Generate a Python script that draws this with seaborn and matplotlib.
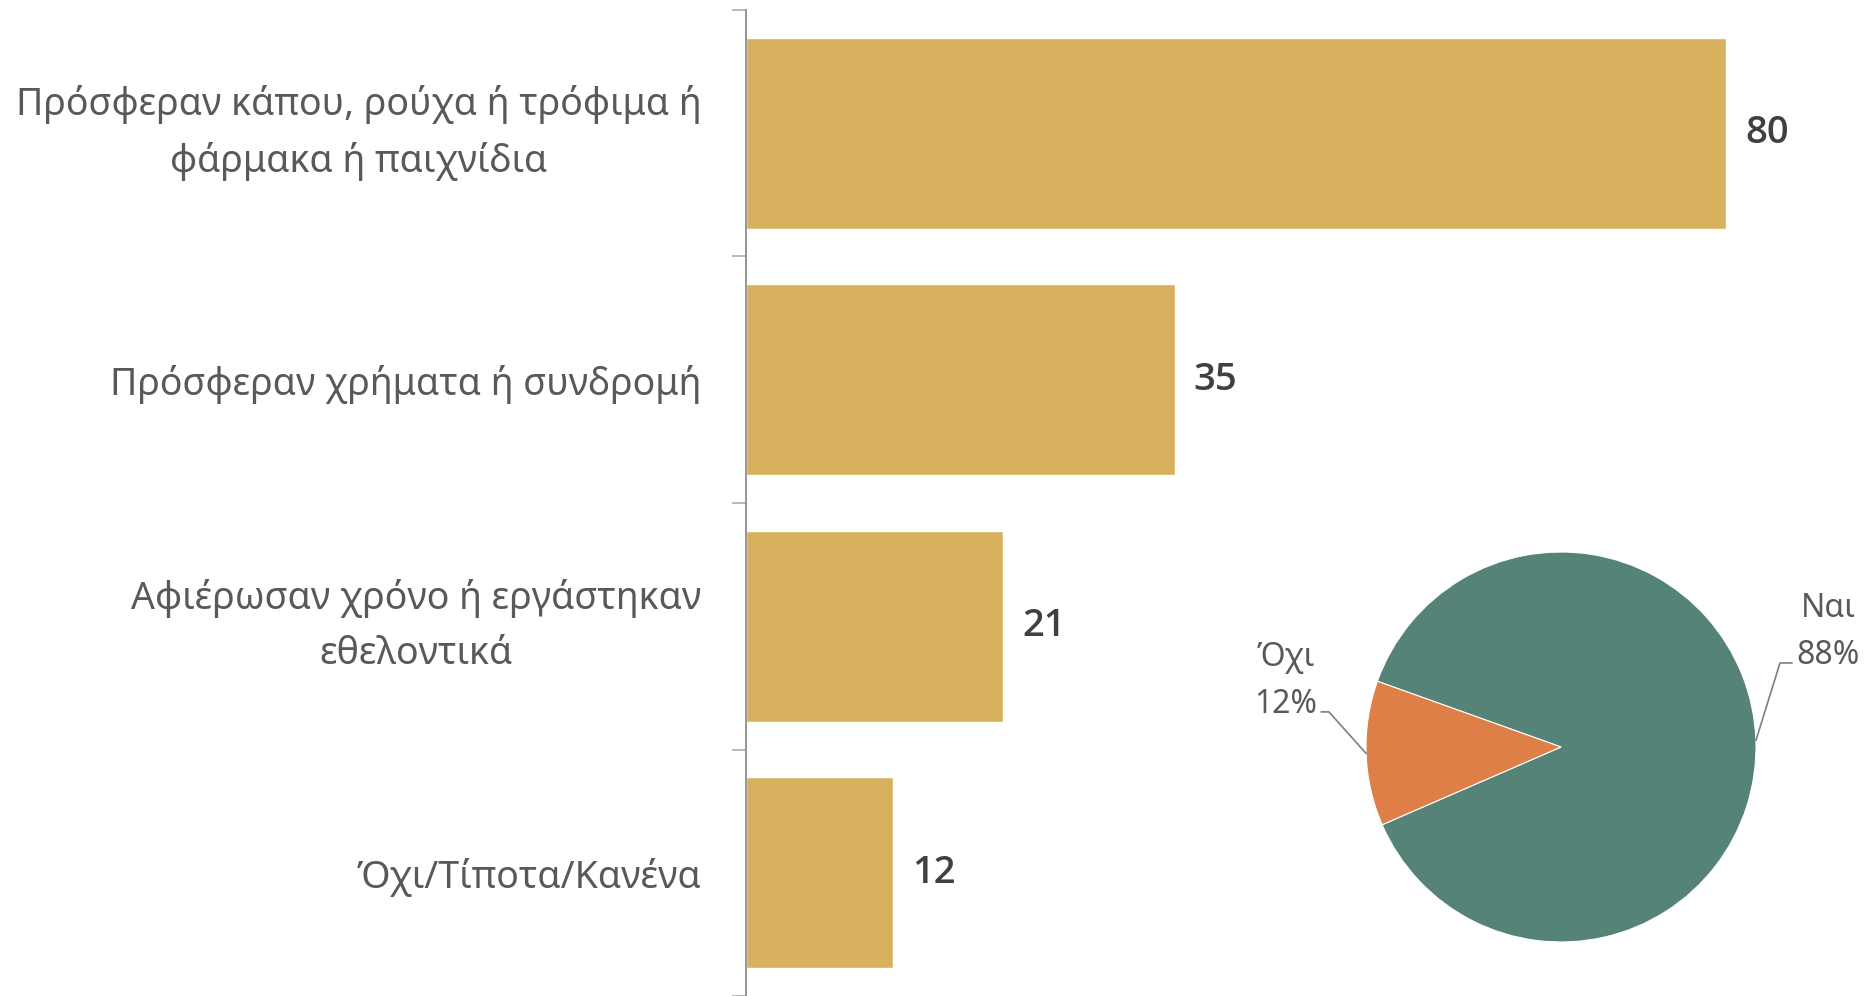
import numpy as np
import matplotlib
matplotlib.use("Agg")
import matplotlib.pyplot as plt
import seaborn as sns

categories = ["Πρόσφεραν κάπου, ρούχα ή τρόφιμα ή\nφάρμακα ή παιχνίδια",
              "Πρόσφεραν χρήματα ή συνδρομή",
              "Αφιέρωσαν χρόνο ή εργάστηκαν\nεθελοντικά",
              "Όχι/Τίποτα/Κανένα"]
values = [80, 35, 21, 12]

pie_labels = ["Ναι", "Όχι"]
pie_values = [88, 12]

bar_color = "#D7B15D"
pie_colors = ["#568377", "#DD7F47"]
text_gray = "#595959"

sns.set_theme(style="white")
plt.rcParams["font.family"] = ["Noto Sans", "DejaVu Sans"]

fig = plt.figure(figsize=(18.64, 9.96), dpi=100)

# bar chart
ax = fig.add_axes([746 / 1864, 0, 1 - 746 / 1864, 1 - 10 / 996])
sns.barplot(x=values, y=categories, color=bar_color, width=0.776, ax=ax,
            saturation=1, orient="h")
ax.set_xlim(0, (1864 - 746) / 12.25)
ax.set_ylim(-0.5 + 986 / 247.5, -0.5)
ax.set_xlabel("")
ax.set_ylabel("")
ax.set_xticks([])
for s in ["top", "right", "bottom"]:
    ax.spines[s].set_visible(False)
ax.spines["left"].set_color("#8c8c8c")
ax.spines["left"].set_linewidth(1.3)
ax.set_yticks(np.arange(len(categories) + 1) - 0.5, minor=True)
ax.tick_params(axis="y", which="minor", length=10, width=1.1, color="#a6a6a6", left=True)
ax.tick_params(axis="y", which="major", length=0, pad=32, labelsize=27, labelcolor=text_gray)
for lab in ax.get_yticklabels():
    lab.set_multialignment("center")
    lab.set_linespacing(1.6)
    if "\n" in lab.get_text():
        lab.set_verticalalignment("center")

for i, v in enumerate(values):
    ax.text(v + 1.55, i, str(v), va="center", ha="left", fontsize=27.5,
            fontweight="semibold", family=["Open Sans", "DejaVu Sans"], color="#404040")

# pie chart
r = 195
pax = fig.add_axes([(1561 - r) / 1864, (996 - 747 - r) / 996, 2 * r / 1864, 2 * r / 996])
wedges, _ = pax.pie(pie_values, colors=pie_colors, startangle=203.5, counterclock=True,
                    wedgeprops=dict(edgecolor="white", linewidth=0.8))
pax.set_xlim(-1, 1)
pax.set_ylim(-1, 1)
pax.set_aspect("equal")
pax.axis("off")

# labels with leader lines
pcts = [f"{v}%" for v in pie_values]
label_pos = {"Ναι": (1.37, 0.59), "Όχι": (-1.41, 0.34)}
elbow = {"Ναι": [(1.185, 0.431), (1.123, 0.431)], "Όχι": [(-1.23, 0.18), (-1.19, 0.18)]}
for w, name, pct in zip(wedges, pie_labels, pcts):
    mid = np.deg2rad((w.theta1 + w.theta2) / 2)
    ex, ey = np.cos(mid), np.sin(mid)
    pts = elbow[name] + [(ex, ey)]
    pax.plot([p[0] for p in pts], [p[1] for p in pts], color="#7f7f7f", lw=1.2,
             clip_on=False)
    tx, ty = label_pos[name]
    pax.text(tx, ty, f"{name}\n{pct}", ha="center", va="center", fontsize=23,
             color=text_gray, linespacing=1.55, clip_on=False)

fig.savefig("out.png", dpi=100)
